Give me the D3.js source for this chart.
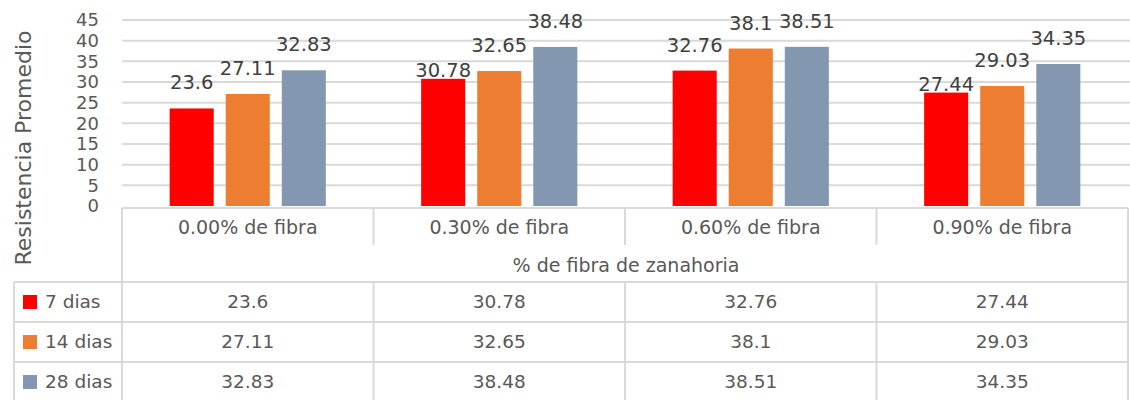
<!DOCTYPE html>
<html>
<head>
<meta charset="utf-8">
<script src="https://cdn.jsdelivr.net/npm/d3@7"></script>
<style>
  html, body { margin: 0; padding: 0; background: #fff; }
  svg { display: block; font-family: "DejaVu Sans", "Open Sans", sans-serif; }
</style>
</head>
<body>
<svg id="chart" width="1130" height="400"></svg>
<script>
// ---- data ----
const categories = ["0.00% de fibra", "0.30% de fibra", "0.60% de fibra", "0.90% de fibra"];
const seriesNames = ["7 dias", "14 dias", "28 dias"];
const dias7  = [23.6, 30.78, 32.76, 27.44];
const dias14 = [27.11, 32.65, 38.1, 29.03];
const dias28 = [32.83, 38.48, 38.51, 34.35];
const seriesColors = ["#FF0000", "#ED7D31", "#8497B0"];
const yTicks = [0, 5, 10, 15, 20, 25, 30, 35, 40, 45];
const xTitle = "% de fibra de zanahoria";
const yTitle = "Resistencia Promedio";

const seriesValues = [dias7, dias14, dias28];

// ---- layout ----
const svg = d3.select("#chart");
const plotL = 122, plotR = 1128, plotT = 20, plotB = 206;
const tableTop = 208, headerBottom = 245, rowsTop = 282, legendL = 14;
const rowH = 40;

const x0 = d3.scaleBand().domain(categories).range([plotL, plotR]);
const x1 = d3.scaleBand().domain(seriesNames).range([0, x0.bandwidth()])
  .paddingInner(0.214).paddingOuter(0.85);
const y = d3.scaleLinear().domain([0, 45]).range([plotB, plotT]);
const rowScale = d3.scaleBand().domain(seriesNames).range([rowsTop, rowsTop + rowH * 3]);

const gridColor = "#d9d9d9";
const textColor = "#595959";
const labelColor = "#404040";

// gridlines
svg.append("g").selectAll("line").data(yTicks.filter(t => t > 0)).join("line")
  .attr("x1", plotL).attr("x2", 1130)
  .attr("y1", d => y(d)).attr("y2", d => y(d))
  .attr("stroke", gridColor).attr("stroke-width", 2);

// y tick labels
svg.append("g").selectAll("text").data(yTicks).join("text")
  .attr("x", 99).attr("y", d => y(d)).attr("dy", "0.36em")
  .attr("text-anchor", "end").attr("fill", textColor)
  .style("font-size", "18px").text(d => d);

// y title
svg.append("text")
  .attr("transform", `translate(31,148) rotate(-90)`)
  .attr("text-anchor", "middle")
  .attr("fill", textColor).style("font-size", "22px").text(yTitle);

// bars
const barData = [];
categories.forEach((c, ci) => {
  seriesNames.forEach((s, si) => {
    barData.push({ c, s, si, v: seriesValues[si][ci] });
  });
});
svg.append("g").selectAll("rect").data(barData).join("rect")
  .attr("x", d => x0(d.c) + x1(d.s)).attr("width", x1.bandwidth())
  .attr("y", d => y(d.v)).attr("height", d => y(0) - y(d.v))
  .attr("fill", d => seriesColors[d.si]);

// data labels with simple collision avoidance (like Excel)
const labelFs = 19.5;
const labels = svg.append("g").selectAll("text").data(barData).join("text")
  .attr("x", d => x0(d.c) + x1(d.s) + x1.bandwidth() / 2)
  .attr("y", d => y(d.v) - 19)
  .attr("text-anchor", "middle").attr("fill", labelColor)
  .style("font-size", labelFs + "px").text(d => d.v);
const nodes = labels.nodes();
for (let i = 0; i < nodes.length - 1; i++) {
  const a = barData[i], b = barData[i + 1];
  if (a.c !== b.c) continue;
  const ba = nodes[i].getBBox(), bb = nodes[i + 1].getBBox();
  const yaB = +nodes[i].getAttribute("y"), ybB = +nodes[i + 1].getAttribute("y");
  const capH = labelFs * 0.73;
  const hOverlap = ba.x + ba.width > bb.x - 3;
  const vOverlap = (yaB - capH) < ybB && (ybB - capH) < yaB;
  if (hOverlap && vOverlap) d3.select(nodes[i]).attr("y", y(a.v) - 2);
}

// ---- table ----
const tg = svg.append("g").attr("stroke", gridColor).attr("stroke-width", 2);
const cuts = categories.map(c => x0(c)).concat([plotR]);
tg.append("line").attr("x1", plotL).attr("x2", plotR).attr("y1", tableTop).attr("y2", tableTop);
tg.selectAll("line.hv").data(cuts).join("line").attr("class", "hv")
  .attr("x1", d => d).attr("x2", d => d)
  .attr("y1", tableTop).attr("y2", d => (d === plotL || d === plotR) ? 400 : headerBottom);
tg.selectAll("line.rh").data(seriesNames).join("line").attr("class", "rh")
  .attr("x1", legendL).attr("x2", plotR)
  .attr("y1", d => rowScale(d)).attr("y2", d => rowScale(d));
tg.append("line").attr("x1", legendL).attr("x2", plotR)
  .attr("y1", rowsTop + rowH * 3).attr("y2", rowsTop + rowH * 3);
tg.selectAll("line.bv").data(cuts.slice(1, -1).concat([legendL])).join("line").attr("class", "bv")
  .attr("x1", d => d).attr("x2", d => d).attr("y1", rowsTop).attr("y2", 400);

// category labels
svg.append("g").selectAll("text").data(categories).join("text")
  .attr("x", d => x0(d) + x0.bandwidth() / 2).attr("y", 234)
  .attr("text-anchor", "middle").attr("fill", textColor)
  .style("font-size", "19px").text(d => d);

// x title
svg.append("text").attr("x", 626).attr("y", 272)
  .attr("text-anchor", "middle").attr("fill", textColor)
  .style("font-size", "19px").text(xTitle);

// legend keys + names
const legRows = svg.append("g").selectAll("g").data(seriesNames).join("g")
  .attr("transform", d => `translate(0,${rowScale(d) + rowScale.bandwidth() / 2})`);
legRows.append("rect").attr("x", 23).attr("y", -7).attr("width", 14).attr("height", 14)
  .attr("fill", (d, i) => seriesColors[i]);
legRows.append("text").attr("x", 45).attr("dy", "0.35em").attr("fill", textColor)
  .style("font-size", "18.5px").text(d => d);

// table values
const cellData = [];
seriesNames.forEach((s, si) => categories.forEach((c, ci) => cellData.push({ s, c, v: seriesValues[si][ci] })));
svg.append("g").selectAll("text").data(cellData).join("text")
  .attr("x", d => x0(d.c) + x0.bandwidth() / 2)
  .attr("y", d => rowScale(d.s) + rowScale.bandwidth() / 2).attr("dy", "0.35em")
  .attr("text-anchor", "middle").attr("fill", textColor)
  .style("font-size", "18.5px").text(d => d.v);
</script>
</body>
</html>
